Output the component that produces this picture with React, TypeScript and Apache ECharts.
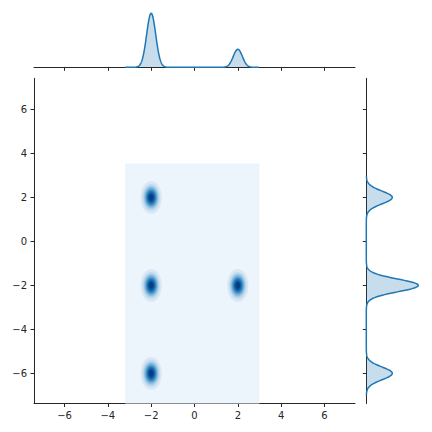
import React, { useEffect, useRef } from "react";
import * as echarts from "echarts";

const pointX = [-2, -2, 2, -2];
const pointY = [2, -2, -2, -6];
const tickValues = [-6, -4, -2, 0, 2, 4, 6];
const axisRangeX = [-7.41, 7.41];
const axisRangeY = [-7.37, 7.42];
// kernel bandwidths (read from the widths of the peaks)
const bwX1 = 0.21;
const bwY1 = 0.29;
const bwX2 = 0.23;
const bwY2 = 0.35;
// KDE supports (cut)
const supportX = [-3.2, 2.98];
const supportY = [-7.0, 2.96];
const kdeGridX = [-3.2, 3.0];
const kdeGridY = [-7.6, 3.55];

const LINE = "#1f77b4";
const FILL = "rgba(31,119,180,0.25)";
const AX = "#262626";

const bluesAnchors = ["#f7fbff", "#deebf7", "#c6dbef", "#9ecae1", "#6baed6", "#4292c6", "#2171b5", "#08519c", "#08306b"];
function hex(h: string) {
  return [parseInt(h.slice(1, 3), 16), parseInt(h.slice(3, 5), 16), parseInt(h.slice(5, 7), 16)];
}
function blues(t: number) {
  const s = Math.max(0, Math.min(1, t)) * 8;
  const i = Math.min(7, Math.floor(s));
  const f = s - i;
  const a = hex(bluesAnchors[i]);
  const b = hex(bluesAnchors[i + 1]);
  const c = a.map((v, k) => Math.round(v + (b[k] - v) * f));
  return `rgb(${c[0]},${c[1]},${c[2]})`;
}

function kde1(vals: number[], bw: number, t: number) {
  let s = 0;
  for (const v of vals) s += Math.exp(-0.5 * ((t - v) / bw) ** 2);
  return s / (vals.length * bw * Math.sqrt(2 * Math.PI));
}

function curve(vals: number[], bw: number, lo: number, hi: number) {
  const out: number[][] = [];
  const n = 400;
  for (let i = 0; i <= n; i++) {
    const t = lo + ((hi - lo) * i) / n;
    out.push([t, kde1(vals, bw, t)]);
  }
  return out;
}

const topCurve = curve(pointX, bwX1, supportX[0], supportX[1]); // [x, density]
const rightCurve = curve(pointY, bwY1, supportY[0], supportY[1]).map((p) => [p[1], p[0]]); // [density, y]
const topPeak = Math.max(...topCurve.map((p) => p[1]));
const rightPeak = Math.max(...rightCurve.map((p) => p[0]));

// 2D contour levels (matplotlib-like nice step)
const peak2 = 1 / (pointX.length * 2 * Math.PI * bwX2 * bwY2);
function niceStep(v: number) {
  const raw = v / 11;
  const e = Math.pow(10, Math.floor(Math.log10(raw)));
  for (const m of [1, 2, 2.5, 5, 10]) if (m * e >= raw) return m * e;
  return 10 * e;
}
const step = niceStep(peak2);
const topLevel = Math.ceil(peak2 / step) * step;
const bandColor = (k: number) => blues(((k + 0.5) * step) / topLevel);

const ellipseData: number[][] = [];
for (let k = 1; k * step < peak2; k++) {
  const f = Math.sqrt(-2 * Math.log((k * step) / peak2));
  for (let i = 0; i < pointX.length; i++) {
    ellipseData.push([pointX[i], pointY[i], f * bwX2, f * bwY2, k]);
  }
}

function fmt(v: number) {
  return v < 0 ? "\u2212" + Math.abs(v) : String(v);
}

export default function App() {
  const ref = useRef<HTMLDivElement>(null);
  useEffect(() => {
    if (!ref.current) return;
    const chart = echarts.init(ref.current, null, { renderer: "svg" });
    const axisLine = { show: true, onZero: false, lineStyle: { color: AX, width: 1 } };
    const tick = { show: true, length: 3.5, inside: false, customValues: tickValues, lineStyle: { color: AX, width: 1 } };
    const label = {
      show: true,
      customValues: tickValues,
      formatter: fmt,
      margin: 7,
      fontSize: 10,
      fontFamily: "DejaVu Sans",
      color: AX,
    };
    chart.setOption({
      animation: false,
      backgroundColor: "#ffffff",
      grid: [
        { left: 34, top: 78.3, width: 321, height: 325.2 },
        { left: 34, top: 2, width: 321, height: 65.3 },
        { left: 366.3, top: 78.3, width: 65, height: 325.2 },
      ],
      xAxis: [
        { gridIndex: 0, type: "value", min: axisRangeX[0], max: axisRangeX[1], axisLine, axisTick: tick, axisLabel: label, splitLine: { show: false } },
        { gridIndex: 1, type: "value", min: axisRangeX[0], max: axisRangeX[1], axisLine, axisTick: tick, axisLabel: { show: false }, splitLine: { show: false } },
        { gridIndex: 2, type: "value", min: 0, max: rightPeak / 0.8, show: false, splitLine: { show: false } },
      ],
      yAxis: [
        { gridIndex: 0, type: "value", min: axisRangeY[0], max: axisRangeY[1], axisLine, axisTick: tick, axisLabel: label, splitLine: { show: false } },
        { gridIndex: 1, type: "value", min: 0, max: topPeak / 0.827, show: false, splitLine: { show: false } },
        { gridIndex: 2, type: "value", min: axisRangeY[0], max: axisRangeY[1], axisLine, axisTick: tick, axisLabel: { show: false }, splitLine: { show: false } },
      ],
      series: [
        {
          type: "custom",
          xAxisIndex: 0,
          yAxisIndex: 0,
          clip: true,
          z: 1,
          encode: { x: [0, 2], y: [1, 3] },
          data: [[kdeGridX[0], kdeGridY[1], kdeGridX[1], kdeGridY[0]]],
          renderItem: (params: any, api: any) => {
            const a = api.coord([api.value(0), api.value(1)]);
            const b = api.coord([api.value(2), api.value(3)]);
            return {
              type: "rect",
              shape: { x: a[0], y: a[1], width: b[0] - a[0], height: b[1] - a[1] },
              style: { fill: bandColor(0) },
            };
          },
        },
        {
          type: "custom",
          xAxisIndex: 0,
          yAxisIndex: 0,
          clip: true,
          z: 2,
          encode: { x: 0, y: 1 },
          data: ellipseData,
          renderItem: (params: any, api: any) => {
            const c = api.coord([api.value(0), api.value(1)]);
            const s = api.size([api.value(2), api.value(3)]);
            return {
              type: "ellipse",
              shape: { cx: c[0], cy: c[1], rx: s[0], ry: s[1] },
              style: { fill: bandColor(api.value(4)) },
            };
          },
        },
        {
          type: "custom",
          xAxisIndex: 1,
          yAxisIndex: 1,
          z: 2,
          encode: { x: 0, y: 1 },
          data: topCurve,
          renderItem: (params: any, api: any) => {
            if (params.dataIndex !== 0) return null;
            const pts = topCurve.map((p) => api.coord(p));
            const poly = pts.concat([api.coord([supportX[1], 0]), api.coord([supportX[0], 0])]);
            return {
              type: "group",
              children: [
                { type: "polygon", shape: { points: poly }, style: { fill: FILL } },
                { type: "polyline", shape: { points: pts }, style: { stroke: LINE, lineWidth: 1.5, fill: "none" } },
              ],
            };
          },
        },
        {
          type: "custom",
          xAxisIndex: 2,
          yAxisIndex: 2,
          z: 2,
          encode: { x: 0, y: 1 },
          data: rightCurve,
          renderItem: (params: any, api: any) => {
            if (params.dataIndex !== 0) return null;
            const pts = rightCurve.map((p) => api.coord(p));
            const poly = pts.concat([api.coord([0, supportY[1]]), api.coord([0, supportY[0]])]);
            return {
              type: "group",
              children: [
                { type: "polygon", shape: { points: poly }, style: { fill: FILL } },
                { type: "polyline", shape: { points: pts }, style: { stroke: LINE, lineWidth: 1.5, fill: "none" } },
              ],
            };
          },
        },
      ],
    });
    return () => chart.dispose();
  }, []);
  return <div ref={ref} style={{ position: "absolute", left: 0, top: 0, width: 432, height: 432 }} />;
}
